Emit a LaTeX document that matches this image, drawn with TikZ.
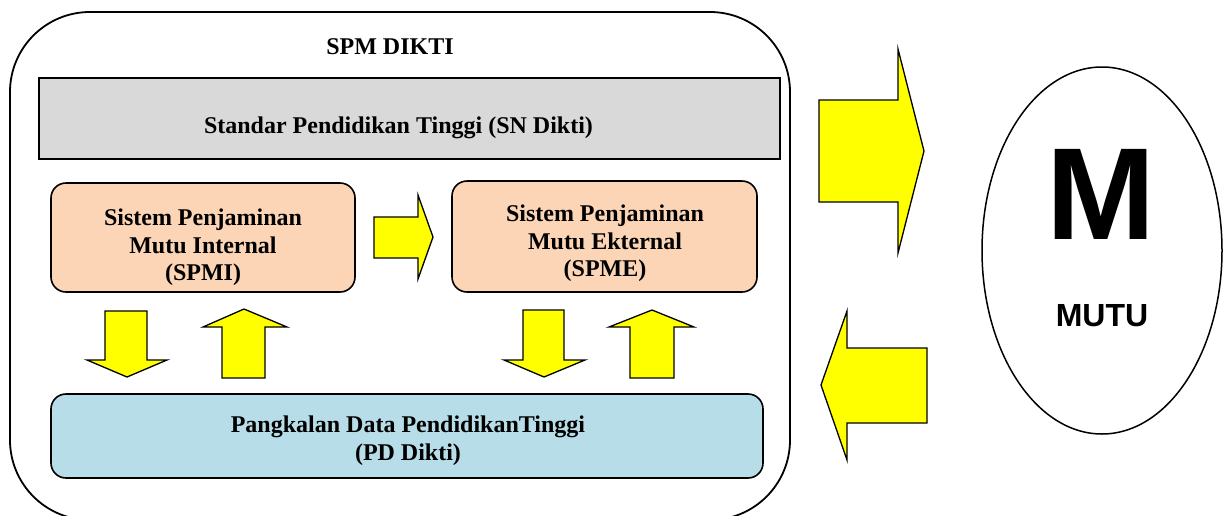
\documentclass[tikz,border=0pt]{standalone}
\usepackage{fontspec}
\setmainfont{Liberation Serif}
\newfontfamily\arialfont{Liberation Sans}
\usetikzlibrary{shapes.geometric}
\definecolor{sngray}{HTML}{D9D9D9}
\definecolor{peach}{HTML}{FBD5B5}
\definecolor{pdblue}{HTML}{B7DDE8}
\definecolor{arrowyellow}{HTML}{FFFF00}
\begin{document}
\begin{tikzpicture}[x=1pt,y=-1pt,
  box/.style={draw, line width=1.6pt, inner sep=0pt, outer sep=0pt, anchor=north west},
  blockarrow/.style={draw, line width=1.3pt, fill=arrowyellow, line join=miter},
  lbl/.style={font=\fontsize{24}{27.5}\selectfont\bfseries, align=center, inner sep=0pt}]
\useasboundingbox (0,0) rectangle (1224,515);
% outer frame
\node[box, line width=1.8pt, rounded corners=80pt, minimum width=780pt, minimum height=508pt] (spm) at (10,12) {};
% inner boxes
\node[box, fill=sngray, minimum width=741pt, minimum height=81pt] (sn) at (39,78) {};
\node[box, fill=peach, rounded corners=15pt, minimum width=304pt, minimum height=109pt] (spmi) at (51,183) {};
\node[box, fill=peach, rounded corners=15pt, minimum width=305pt, minimum height=111pt] (spme) at (452,181) {};
\node[box, fill=pdblue, rounded corners=15pt, minimum width=712pt, minimum height=84pt] (pd) at (51,394) {};
% ellipse
\node[draw, ellipse, line width=1.5pt, minimum width=240pt, minimum height=367pt, inner sep=0pt] (mutu) at (1102,250.5) {};
% texts
\node[lbl] (spmt) at (390,47) {SPM DIKTI};
\node[lbl] (snt) at (398.5,128) {Standar Pendidikan Tinggi (SN Dikti)};
\node[lbl] (spmit) at (203,247.5) {Sistem Penjaminan\\Mutu Internal\\(SPMI)};
\node[lbl] (spmet) at (605,243.5) {Sistem Penjaminan\\Mutu Ekternal\\(SPME)};
\node[lbl] (pdt) at (408,440.5) {Pangkalan Data PendidikanTinggi\\(PD Dikti)};
\node[font=\fontsize{131}{131}\selectfont\arialfont\bfseries, inner sep=0pt] (mt) at (1101.5,194) {M};
\node[font=\fontsize{32}{32}\selectfont\arialfont\bfseries, inner sep=0pt] (mutut) at (1102,316) {MUTU};
% block arrows
\draw[blockarrow] (374,217) -- (418,217) -- (418,195) -- (433,237) -- (418,279) -- (418,258) -- (374,258) -- cycle;
\draw[blockarrow] (105,311) -- (147,311) -- (147,360) -- (167,360) -- (127,377) -- (87,360) -- (105,360) -- cycle;
\draw[blockarrow] (222,378) -- (222,327) -- (203,327) -- (244,309) -- (287,327) -- (265,327) -- (265,378) -- cycle;
\draw[blockarrow] (523,310) -- (564,310) -- (564,360) -- (585,360) -- (544,377) -- (504,360) -- (523,360) -- cycle;
\draw[blockarrow] (630,378) -- (630,327) -- (609,327) -- (652,310) -- (694,327) -- (674,327) -- (674,378) -- cycle;
\draw[blockarrow] (819,100) -- (898,100) -- (898,49) -- (924,151) -- (898,253) -- (898,202) -- (819,202) -- cycle;
\draw[blockarrow] (927,348) -- (847,348) -- (847,311) -- (821,385) -- (847,460) -- (847,423) -- (927,423) -- cycle;
\end{tikzpicture}
\end{document}
